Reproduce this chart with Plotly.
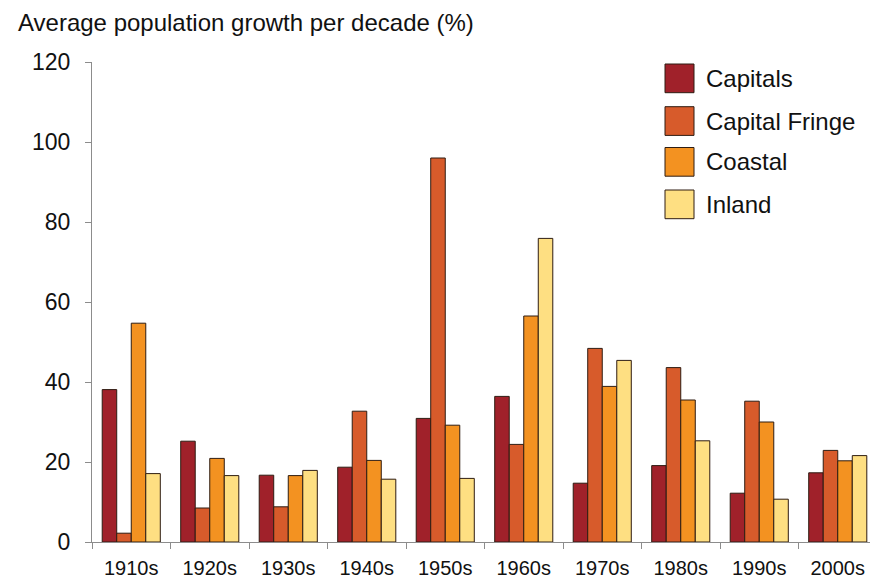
import plotly.graph_objects as go

decades = ["1910s", "1920s", "1930s", "1940s", "1950s", "1960s", "1970s", "1980s", "1990s", "2000s"]
capitals = [38.1, 25.2, 16.7, 18.7, 30.9, 36.4, 14.7, 19.1, 12.2, 17.3]
capital_fringe = [2.2, 8.5, 8.8, 32.7, 96.0, 24.4, 48.4, 43.6, 35.2, 22.9]
coastal = [54.7, 20.9, 16.6, 20.4, 29.2, 56.5, 38.9, 35.5, 30.0, 20.3]
inland = [17.1, 16.6, 17.9, 15.7, 15.9, 75.9, 45.4, 25.3, 10.7, 21.6]

series_names = ["Capitals", "Capital Fringe", "Coastal", "Inland"]
series_values = [capitals, capital_fringe, coastal, inland]
colors = ["#A0212A", "#D75B2B", "#F39221", "#FEDF82"]
edge = "#2E1C12"

W, H = 870, 579
L, R, T, B = 92, 0, 62, 37
pw, ph = W - L - R, H - T - B

fig = go.Figure()
for name, vals, col in zip(series_names, series_values, colors):
    fig.add_trace(go.Bar(x=decades, y=vals, name=name, showlegend=False,
                         marker=dict(color=col, line=dict(color=edge, width=1))))

font = "Liberation Sans, Arial, sans-serif"

def px_x(p):
    return (p - L) / pw

def px_y(p):
    return (H - B - p) / ph

shapes = []
annotations = []
sq_tops = [64, 106.7, 147.5, 190]
for i, (name, col) in enumerate(zip(series_names, colors)):
    top = sq_tops[i]
    bot = top + 28.7
    shapes.append(dict(type="rect", xref="paper", yref="paper",
                       x0=px_x(665), x1=px_x(694), y0=px_y(bot), y1=px_y(top),
                       fillcolor=col, line=dict(color=edge, width=1)))
    annotations.append(dict(xref="paper", yref="paper", x=px_x(704), y=px_y((top + bot) / 2),
                            xanchor="left", yanchor="middle", text=name, showarrow=False,
                            font=dict(size=24, color="#111111", family=font)))

annotations.append(dict(xref="paper", yref="paper", x=px_x(16), y=px_y(22),
                        xanchor="left", yanchor="middle",
                        text="Average population growth per decade (%)", showarrow=False,
                        font=dict(size=24, color="#111111", family=font)))

fig.update_layout(
    width=W, height=H,
    margin=dict(l=L, r=R, t=T, b=B, autoexpand=False),
    paper_bgcolor="white", plot_bgcolor="white",
    barmode="group", bargap=0.26, bargroupgap=0,
    font=dict(family=font, color="#111111"),
    shapes=shapes, annotations=annotations,
    xaxis=dict(type="category", range=[-0.5, -0.5 + pw / 78.5], automargin=False,
               showline=True, linecolor="#8C8C8C", linewidth=1,
               ticks="outside", tickson="boundaries", ticklen=6, tickcolor="#8C8C8C",
               tickfont=dict(size=20, color="#111111"), showgrid=False,
               ticklabelstandoff=8),
    yaxis=dict(range=[0, 120], tickvals=[0, 20, 40, 60, 80, 100, 120], automargin=False,
               showline=True, linecolor="#8C8C8C", linewidth=1,
               ticks="outside", ticklen=6, tickcolor="#8C8C8C",
               tickfont=dict(size=23, color="#111111"), showgrid=False, zeroline=False,
               ticklabelstandoff=10),
)

fig.write_html("out.html", config={"displayModeBar": False},
               post_script="document.body.style.margin='0';document.body.style.overflow='hidden';")
